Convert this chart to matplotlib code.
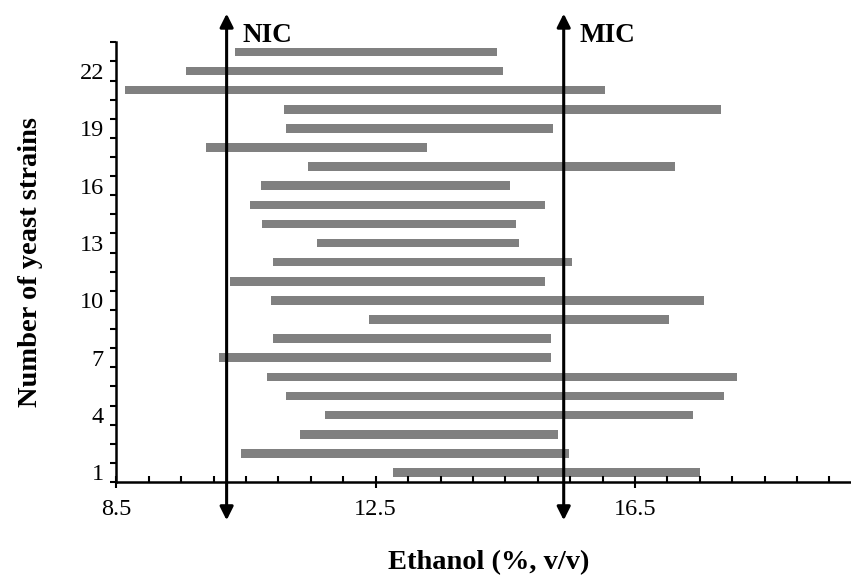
import numpy as np
import matplotlib
matplotlib.use("Agg")
import matplotlib.pyplot as plt

plt.rcParams['font.family'] = ['Liberation Serif', 'DejaVu Serif']

# ethanol range (start, end) for each yeast strain, strain 1 .. 23
strains = np.arange(1, 24)
start = [12.77, 10.42, 11.33, 11.72, 11.12, 10.82, 10.08, 10.92, 12.40, 10.88,
         10.25, 10.92, 11.59, 10.75, 10.56, 10.73, 11.46, 9.88, 11.12, 11.09,
         8.63, 9.57, 10.33]
end = [17.51, 15.48, 15.31, 17.40, 17.88, 18.08, 15.20, 15.20, 17.02, 17.57,
       15.11, 15.53, 14.71, 14.66, 15.11, 14.57, 17.12, 13.29, 15.23, 17.82,
       16.03, 14.46, 14.37]
nic = 10.2
mic = 15.4
xticks_major = [8.5, 12.5, 16.5]
ylabels_shown = [1, 4, 7, 10, 13, 16, 19, 22]

start = np.array(start)
end = np.array(end)

fig = plt.figure(figsize=(8.51, 5.75), dpi=100)
ax = fig.add_axes([0.1368, 0.1617, 0.876, 0.7647])

ax.barh(strains, end - start, left=start, height=0.45, color='#808080')

ax.set_xlim(8.5, 20)
ax.set_ylim(0.5, 23.5)

for s in ['top', 'right']:
    ax.spines[s].set_visible(False)
for s in ['left', 'bottom']:
    ax.spines[s].set_linewidth(1.8)

# x ticks: major cross the axis, minor point inward
ax.set_xticks(xticks_major)
ax.set_xticks(np.arange(8.5, 20.01, 0.5), minor=True)
ax.set_xticklabels([str(v) for v in xticks_major])
ax.tick_params(axis='x', which='major', direction='inout', length=8, width=1.5,
               labelsize=17.5, pad=8)
ax.tick_params(axis='x', which='minor', direction='in', length=4, width=1.5)

# y ticks: tick marks between strains, labels at every third strain
ax.set_yticks(ylabels_shown)
ax.set_yticklabels([str(v) for v in ylabels_shown])
ax.set_yticks(np.arange(0.5, 23.6, 1), minor=True)
ax.tick_params(axis='y', which='major', length=0, labelsize=17.5, pad=9)
ax.tick_params(axis='y', which='minor', direction='out', length=4.5, width=1.5)

ax.set_ylabel('Number of yeast strains', fontsize=20.5, fontweight='bold', labelpad=26)
ax.set_xlabel('Ethanol (%, v/v)', fontsize=20.5, fontweight='bold', labelpad=22)

# NIC / MIC arrows
for xv, name in [(nic, 'NIC'), (mic, 'MIC')]:
    ax.annotate('', xy=(xv, 25.0), xytext=(xv, -1.5),
                arrowprops=dict(arrowstyle='<|-|>', color='black', lw=2.2,
                                mutation_scale=20, shrinkA=0, shrinkB=0),
                annotation_clip=False)
    ax.text(xv + 0.24, 23.85, name, fontsize=19.5, fontweight='bold',
            va='center', ha='left', clip_on=False)

fig.savefig('out.png', dpi=100)
